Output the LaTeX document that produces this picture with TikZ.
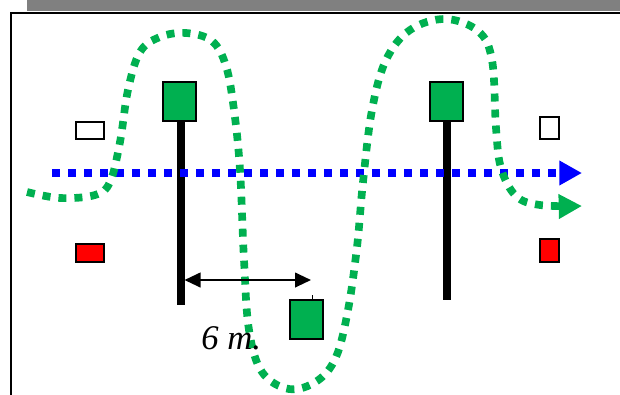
\documentclass[tikz,border=0pt]{standalone}
\usepackage{fontspec}
\setmainfont{Liberation Serif}
\usetikzlibrary{arrows.meta}

\definecolor{flaggreen}{RGB}{0,176,80}
\definecolor{framegray}{RGB}{128,128,128}

\tikzset{
  flag/.style={draw=black, line width=1.5pt, fill=flaggreen, inner sep=0pt,
    minimum width=24.75pt, minimum height=29.25pt},
  cone/.style={draw=black, line width=1.5pt, inner sep=0pt},
  pole/.style={line width=5.5pt},
  dotline/.style={line width=5.75pt, dash pattern=on 6pt off 6pt},
}

\begin{document}
\begin{tikzpicture}[x=0.75pt, y=-0.75pt]
		\useasboundingbox (0,0) rectangle (620,394);
		\clip (0,0) rectangle (620,394);
		
		% Frame
		\fill[framegray] (27,0) rectangle (620,11);
		\draw[line width=1.5pt] (11,420) -- (11,13) -- (640,13);
		
		% Cones
		\node[cone, fill=white, minimum width=21pt, minimum height=12.75pt] (cwl) at (90,130.5) {};
		\node[cone, fill=red, minimum width=21pt, minimum height=13.5pt] (crl) at (90,253) {};
		\node[cone, fill=white, minimum width=14.25pt, minimum height=16.5pt] (cwr) at (549.5,128) {};
		\node[cone, fill=red, minimum width=14.25pt, minimum height=17.25pt] (crr) at (549.5,250.5) {};
		
		% Poles with flags
		\coordinate (pl) at (181,305);
		\coordinate (pr) at (447,300);
		\draw[pole] (181,120) -- (pl);
		\draw[pole] (447,120) -- (pr);
		\node[flag] (fl) at (179,101.5) {};
		\node[flag] (fr) at (446,101.5) {};
		
		% Bottom flag
		\node[flag] (fb) at (306,319.5) {};
		\draw[line width=0.4pt] (fb.north) ++(6,0) -- ++(0,-4);
		
		% Blue straight run
		\coordinate (bs) at (52,173);
		\coordinate (be) at (582,173);
		\draw[dotline, blue, -{Triangle[length=17pt, width=17.5pt]}] (bs) -- (be);
		
		% Green slalom run
		\draw[dotline, flaggreen, -{Triangle[length=17.5pt, width=17.5pt]}]
			plot[smooth, tension=0.6] coordinates {
			(27,192) (60,198) (95,195) (110,182) (120,142) (128,90) (140,52)
			(160,37) (186,33) (212,41) (226,66) (234,110) (240,170)
			(244,260) (249,330) (262,372) (289,389) (317,381) (336,357)
			(348,310) (357,247) (363,182) (372,110) (386,60) (410,30)
			(445,19) (478,31) (492,60) (496,128) (501,168) (516,196)
			(540,205) (582,206)};
		
		% Distance
		\coordinate (dl) at (184.5,280);
		\coordinate (dr) at (311,280);
		\draw[line width=1.5pt, {Triangle[length=12pt, width=11pt]}-{Triangle[length=12pt, width=11pt]}] (dl) -- (dr);
		\node[anchor=base west, inner sep=0pt, font=\itshape\fontsize{26}{30}\selectfont] (dist) at (201,349) {6 m.};
		
	\end{tikzpicture}
\end{document}
